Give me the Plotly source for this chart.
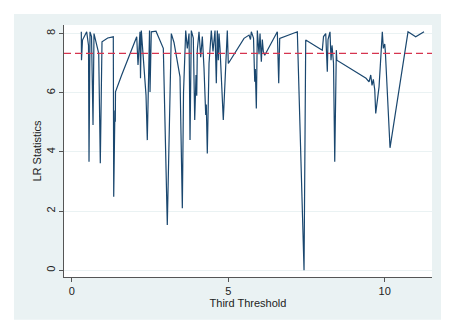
import plotly.graph_objects as go

threshold = [0.307, 0.313, 0.345, 0.479, 0.537, 0.553, 0.585, 0.633, 0.681, 0.712,
             0.863, 0.914, 0.968, 1.150, 1.329, 1.342, 1.380, 1.393, 1.399, 1.597,
             2.077, 2.118, 2.182, 2.198, 2.224, 2.374, 2.415, 2.470, 2.486, 2.502,
             2.543, 2.693, 2.927, 3.054, 3.182, 3.268, 3.428, 3.460, 3.492, 3.534,
             3.572, 3.620, 3.642, 3.693, 3.748, 3.780, 3.821, 3.885, 3.930, 3.971,
             3.994, 4.013, 4.067, 4.121, 4.173, 4.227, 4.281, 4.300, 4.332, 4.387,
             4.460, 4.514, 4.578, 4.620, 4.652, 4.684, 4.706, 4.738, 4.843, 4.971,
             5.003, 5.505, 5.665, 5.712, 5.738, 5.808, 5.847, 5.866, 5.898, 5.930,
             5.984, 6.016, 6.058, 6.089, 6.121, 6.166, 6.569, 6.613, 6.645, 7.208,
             7.422, 7.476, 8.006, 8.045, 8.115, 8.166, 8.188, 8.252, 8.284, 8.316,
             8.364, 8.403, 8.454, 8.470, 9.403, 9.499, 9.553, 9.594, 9.636, 9.681,
             9.712, 9.818, 9.923, 9.955, 10.000, 10.019, 10.169, 10.744, 10.990, 11.256]

lr_stat = [8.06, 7.10, 7.78, 8.06, 7.60, 3.67, 8.06, 7.90, 4.91, 8.00,
           7.33, 3.62, 7.72, 7.85, 7.89, 2.49, 5.40, 5.02, 6.03, 6.60,
           7.89, 6.94, 8.06, 6.49, 8.10, 5.92, 4.40, 7.90, 8.10, 6.03,
           8.06, 8.08, 7.50, 1.53, 8.00, 7.70, 6.60, 6.54, 4.60, 2.10,
           6.00, 7.95, 8.10, 7.50, 8.00, 4.40, 8.10, 7.85, 5.08, 6.60,
           5.90, 7.45, 8.06, 7.20, 7.90, 6.82, 5.25, 5.60, 3.95, 7.00,
           8.10, 7.40, 8.10, 6.32, 8.10, 7.10, 8.00, 7.50, 5.08, 8.10,
           6.99, 7.84, 7.95, 7.80, 8.06, 7.85, 6.37, 6.80, 5.47, 8.10,
           7.30, 8.00, 7.05, 7.80, 7.40, 7.27, 8.06, 6.32, 7.84, 8.06,
           0.00, 7.78, 7.44, 7.90, 8.00, 6.71, 7.80, 8.06, 7.10, 7.60,
           7.00, 3.67, 7.44, 7.10, 6.49, 6.37, 6.60, 6.25, 6.45, 6.10,
           5.30, 6.20, 8.06, 7.50, 7.65, 7.40, 4.14, 8.06, 7.89, 8.06]

critical_value = 7.33
x_ticks = [0, 5, 10]
y_ticks = [0, 2, 4, 6, 8]

font = "Liberation Sans, Arial, sans-serif"
outer_bg = "#EAF2F3"

fig = go.Figure()
fig.add_trace(go.Scatter(x=threshold, y=lr_stat, mode="lines",
                         line=dict(color="#1A476F", width=1.2),
                         showlegend=False, hoverinfo="skip"))

# graph region (outer light band) and white plot region
fig.add_shape(type="rect", xref="paper", yref="paper",
              x0=-0.136, x1=1.0245, y0=-0.17, y1=1.0437,
              fillcolor=outer_bg, line=dict(width=0), layer="below")
fig.add_shape(type="rect", xref="paper", yref="paper",
              x0=0, x1=1, y0=0, y1=1,
              fillcolor="white", line=dict(width=0), layer="below")
fig.add_shape(type="line", xref="paper", yref="y",
              x0=0, x1=1, y0=critical_value, y1=critical_value,
              line=dict(color="#D6344F", width=1.3, dash="7px,4px"))

fig.update_layout(
    width=458, height=325,
    margin=dict(l=56, r=34, t=17, b=56),
    paper_bgcolor="white", plot_bgcolor="white",
    font=dict(family=font, size=11, color="#222"),
    xaxis=dict(range=[-0.246, 11.51], tickvals=x_ticks, ticks="outside",
               ticklen=4, tickcolor="#555", showgrid=False, zeroline=False,
               showline=True, linecolor="#555", linewidth=1,
               tickfont=dict(size=11, color="#222"),
               title=dict(text="Third Threshold", font=dict(size=11, color="#222"),
                          standoff=0)),
    yaxis=dict(range=[-0.226, 8.29], tickvals=y_ticks, ticks="outside",
               ticklen=4, tickcolor="#555", showgrid=True, gridcolor="#EAF2F3",
               gridwidth=1, zeroline=False, showline=True, linecolor="#555",
               linewidth=1, tickangle=-90,
               tickfont=dict(size=11, color="#222"),
               title=dict(text="LR Statistics", font=dict(size=11, color="#222"),
                          standoff=0)),
)

fig.write_html("out.html")
